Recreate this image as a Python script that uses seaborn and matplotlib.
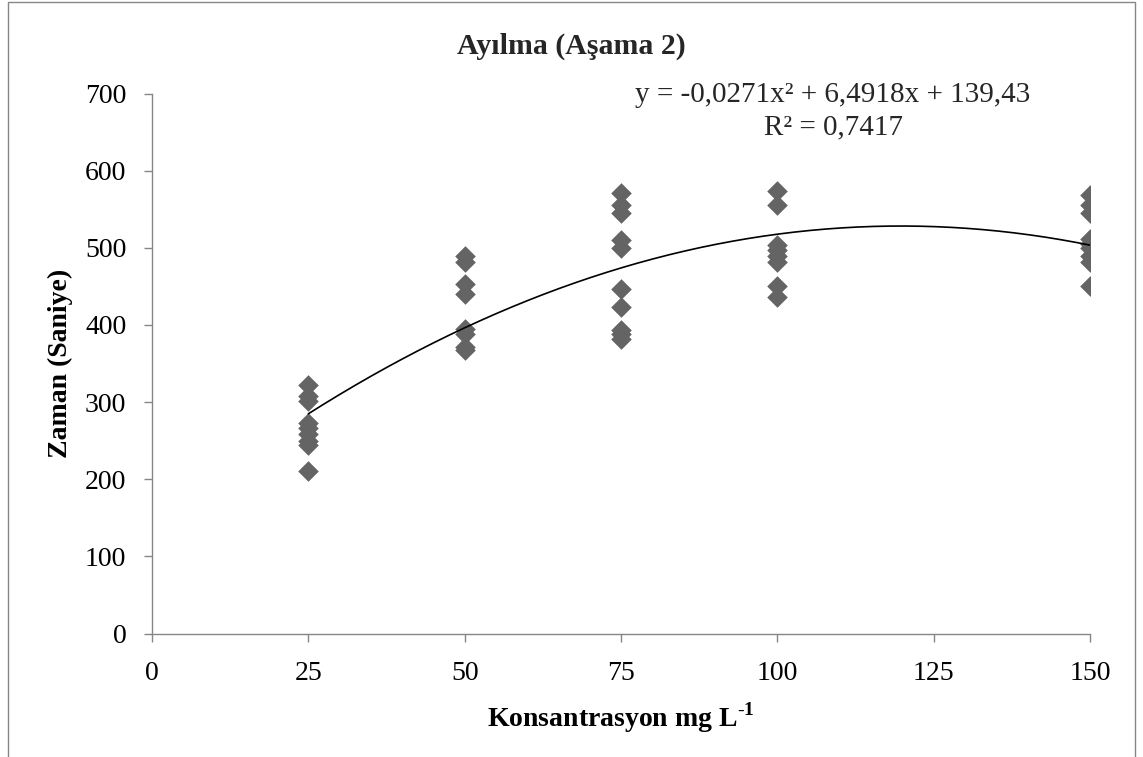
import numpy as np
import pandas as pd
import matplotlib
matplotlib.use("Agg")
import matplotlib.pyplot as plt
import seaborn as sns
from matplotlib.patches import Rectangle

# ---- data ----
x_levels = [25, 50, 75, 100, 150]
y_25 = [322, 308, 302, 273, 266, 258, 250, 245, 211]
y_50 = [489, 482, 453, 440, 395, 388, 372, 368]
y_75 = [571, 555, 545, 510, 500, 447, 423, 393, 388, 382]
y_100 = [574, 556, 503, 497, 490, 482, 451, 436]
y_150 = [568, 555, 545, 512, 505, 500, 490, 482, 450]
trend_coef = [-0.0271, 6.4918, 139.43]   # y = a x^2 + b x + c
x_ticks = [0, 25, 50, 75, 100, 125, 150]
y_ticks = [0, 100, 200, 300, 400, 500, 600, 700]

groups = [y_25, y_50, y_75, y_100, y_150]
df = pd.concat(
    [pd.DataFrame({"x": xv, "y": yv}) for xv, yv in zip(x_levels, groups)],
    ignore_index=True,
)

sns.set_theme(style="white")
plt.rcParams["font.family"] = ["Liberation Serif", "DejaVu Serif"]
plt.rcParams["mathtext.fontset"] = "custom"
plt.rcParams["mathtext.rm"] = "Liberation Serif"
plt.rcParams["mathtext.bf"] = "Liberation Serif:bold"

W, H = 1143, 757
fig = plt.figure(figsize=(W / 100, H / 100), dpi=100)
ax = fig.add_axes([152 / W, 1 - 633.5 / H, (1090 - 152) / W, (633.5 - 93.5) / H])

sns.scatterplot(data=df, x="x", y="y", marker="D", s=110, color="#646464",
                linewidth=0, ax=ax, zorder=3)

xs = np.linspace(min(x_levels), max(x_levels), 300)
ys = np.polyval(trend_coef, xs)
sns.lineplot(x=xs, y=ys, color="black", linewidth=1.2, ax=ax, zorder=4)

ax.set_xlim(0, 150)
ax.set_ylim(0, 700)
ax.set_xticks(x_ticks)
ax.set_yticks(y_ticks)
for s in ["top", "right"]:
    ax.spines[s].set_visible(False)
for s in ["left", "bottom"]:
    ax.spines[s].set_color("#868686")
    ax.spines[s].set_linewidth(1.0)
ax.tick_params(axis="both", which="major", direction="out", length=5.5,
               width=1.0, color="#868686", labelsize=20, labelcolor="black")
ax.tick_params(axis="x", pad=14, bottom=True)
ax.tick_params(axis="y", pad=13, left=True)

ax.set_xlabel(r"Konsantrasyon mg L$^{\mathbf{\text{-}1}}$", fontsize=20,
              fontweight="bold", color="black")
ax.xaxis.label.set_verticalalignment("center")
ax.xaxis.set_label_coords(0.5, (633.5 - 718) / 540)
ax.set_ylabel("Zaman (Saniye)", fontsize=20, fontweight="bold", color="black")
ax.yaxis.label.set_verticalalignment("center")
ax.yaxis.set_label_coords((60 - 152) / 938, 0.5)

fig.text(0.5, 1 - 46 / H, "Ayılma (Aşama 2)", ha="center", va="center",
         fontsize=21.5, fontweight="bold")
fig.text(833 / W, 1 - 95 / H, "y = -0,0271x² + 6,4918x + 139,43",
         ha="center", va="center", fontsize=21)
fig.text(834 / W, 1 - 127 / H, "R² = 0,7417", ha="center", va="center",
         fontsize=21)

fig.patches.append(Rectangle((8 / W, -0.05), (1135 - 8) / W, 1.05 - 1.5 / H,
                             transform=fig.transFigure, fill=False,
                             edgecolor="#868686", linewidth=1.0))

fig.savefig("out.png", dpi=100)
